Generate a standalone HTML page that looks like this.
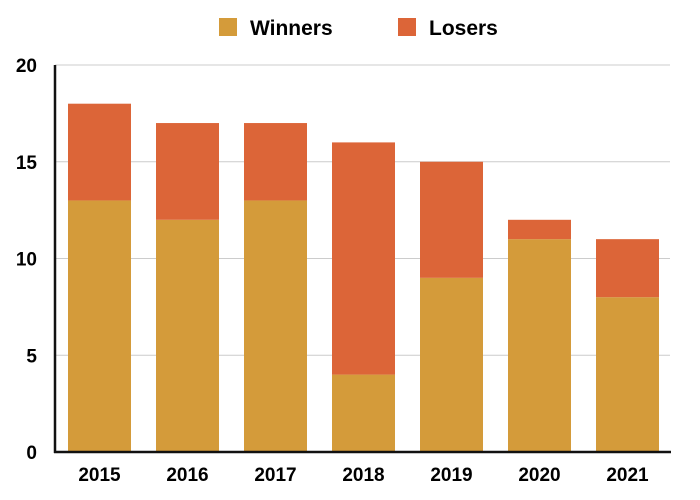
<!DOCTYPE html>
<html><head><meta charset="utf-8"><style>
body{margin:0;background:#fff;}
svg{display:block;font-family:"Liberation Sans",Arial,sans-serif;font-weight:bold;}
</style></head><body>
<svg id="chart" width="700" height="500">
<g>
<rect x="219" y="18" width="18" height="18" fill="#D49B3A"/>
<text x="250" y="35" font-size="21" fill="#000">Winners</text>
<rect x="398" y="18" width="18" height="18" fill="#DC6538"/>
<text x="429" y="35" font-size="21" fill="#000">Losers</text>
</g>
</svg>
<script>
const categories=["2015","2016","2017","2018","2019","2020","2021"];
const winners=[13,12,13,4,9,11,8];
const losers=[5,5,4,12,6,1,3];
const yTicks=[0,5,10,15,20];
const svg=document.getElementById('chart');
const NS='http://www.w3.org/2000/svg';
const x0=55.5,bandW=88,y0=452,yMax=20,yTop=65;
function yS(v){return y0-(v/yMax)*(y0-yTop);}
function xS(i){return x0+i*bandW;}
function mk(t,a){const e=document.createElementNS(NS,t);for(const k in a)e.setAttribute(k,a[k]);svg.appendChild(e);return e;}
yTicks.forEach(v=>{
  if(v>0){const g=mk('line',{x1:55,x2:670,y1:yS(v),y2:yS(v),stroke:'#cccccc','stroke-width':1});
  
  }
  const t=mk('text',{x:37,y:yS(v)+7,'text-anchor':'end','font-size':19,fill:'#000'});
  t.textContent=v;
  
  
});
const bw=63;
categories.forEach((c,i)=>{
  const cx=xS(i)+bandW/2;
  const w=mk('rect',{x:cx-bw/2,y:yS(winners[i]),width:bw,height:y0-yS(winners[i]),fill:'#D49B3A'});
  
  
  const l=mk('rect',{x:cx-bw/2,y:yS(winners[i]+losers[i]),width:bw,height:yS(winners[i])-yS(winners[i]+losers[i]),fill:'#DC6538'});
  
  
  const t=mk('text',{x:cx,y:481,'text-anchor':'middle','font-size':19,fill:'#000'});
  t.textContent=c;
  
  
});
const ya=mk('line',{x1:55,x2:55,y1:yTop,y2:y0+1,stroke:'#111','stroke-width':2.5});


const xa=mk('line',{x1:54,x2:671,y1:y0,y2:y0,stroke:'#111','stroke-width':2.5});


</script>
</body></html>
